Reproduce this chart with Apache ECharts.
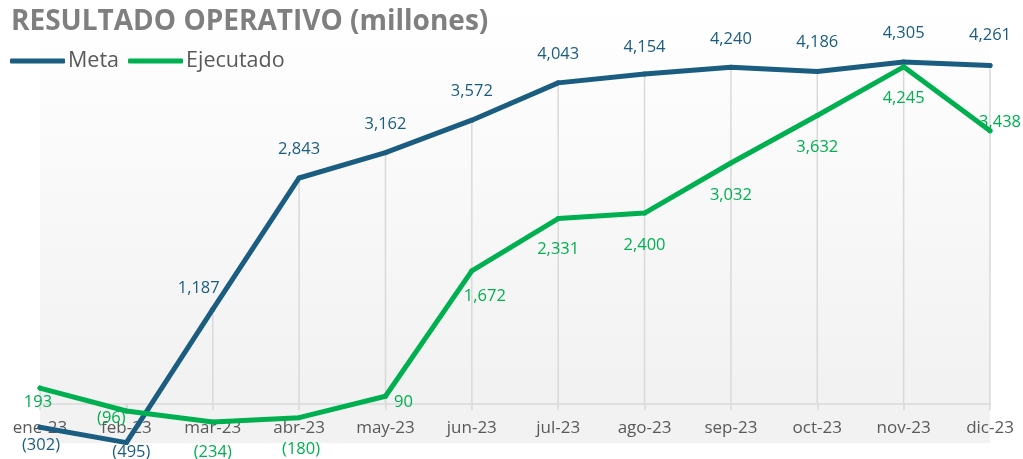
<!DOCTYPE html>
<html>
<head>
<meta charset="utf-8">
<style>
  html, body { margin: 0; padding: 0; background: #fff; }
  #chart { width: 1023px; height: 459px; }
</style>
<script src="https://cdn.jsdelivr.net/npm/echarts@6/dist/echarts.min.js"></script>
</head>
<body>
<div id="chart"></div>
<script>
const months = ['ene-23', 'feb-23', 'mar-23', 'abr-23', 'may-23', 'jun-23',
  'jul-23', 'ago-23', 'sep-23', 'oct-23', 'nov-23', 'dic-23']
const meta = [-302, -495, 1187, 2843, 3162, 3572, 4043, 4154, 4240, 4186, 4305, 4261]
const ejecutado = [193, -96, -234, -180, 90, 1672, 2331, 2400, 3032, 3632, 4245, 3438]

// label offsets from each point (px)
const metaOffsets = [[1, 18], [5, 10], [-14, -21], [0, -29], [0, -28], [0, -29],
  [0, -29], [0, -27], [0, -28], [0, -29], [0, -29], [0, -30]]
const ejecOffsets = [[-2, 14], [-15, 7], [0, 30], [2, 32], [18, 6], [13, 25],
  [0, 31], [0, 32], [0, 32], [0, 32], [0, 31], [10, -9]]

const BLUE = '#1A5D80'
const GREEN = '#00B050'
const FONT = 'Open Sans'

function fmt(v) {
  const s = Math.abs(v).toLocaleString('en-US')
  return v < 0 ? '(' + s + ')' : s
}

function withLabels(values, offsets, color) {
  return values.map((v, i) => ({
    value: v,
    label: {
      show: true,
      position: 'inside',
      offset: offsets[i],
      formatter: fmt(v),
      color: color,
      fontSize: 16.5,
      fontFamily: FONT
    }
  }))
}

const chart = echarts.init(document.getElementById('chart'))

const option = {
  backgroundColor: '#fff',
  animation: false,
  title: {
    text: 'RESULTADO OPERATIVO (millones)',
    left: 6,
    top: 3,
    textStyle: {
      color: '#7F7F7F',
      fontSize: 28,
      fontWeight: 'bold',
      fontFamily: FONT
    }
  },
  legend: {
    left: 5,
    top: 45,
    icon: 'roundRect',
    itemWidth: 55,
    itemHeight: 5,
    itemGap: 9,
    data: ['Meta', 'Ejecutado'],
    textStyle: {
      color: '#595959',
      fontSize: 21.5,
      fontFamily: FONT,
      padding: [0, 0, 0, -2]
    }
  },
  grid: {
    left: 40,
    right: 33,
    top: 7,
    bottom: 16,
    outerBoundsMode: 'none',
    containLabel: false,
    show: true,
    borderWidth: 0,
    backgroundColor: new echarts.graphic.LinearGradient(0, 0, 0, 1, [
      { offset: 0, color: '#FFFFFF' },
      { offset: 0.85, color: '#F2F2F2' },
      { offset: 1, color: '#F2F2F2' }
    ])
  },
  xAxis: {
    type: 'category',
    data: months,
    boundaryGap: false,
    axisLine: { onZero: true, lineStyle: { color: '#D9D9D9', width: 1.5 } },
    axisTick: { show: true, length: 7, interval: 0, lineStyle: { color: '#D9D9D9', width: 1.5 } },
    axisLabel: {
      color: '#595959',
      fontSize: 17,
      fontFamily: FONT,
      // labels sit at the grid bottom in v6, pull them up under the zero line
      margin: -23,
      interval: 0
    },
    splitLine: { show: false }
  },
  yAxis: {
    type: 'value',
    min: -500,
    max: 5000,
    show: false,
    splitLine: { show: false }
  },
  series: [
    {
      // drop lines from the highest point of each month
      name: 'drop',
      type: 'bar',
      silent: true,
      barWidth: 1.5,
      itemStyle: { color: '#D9D9D9' },
      data: meta.map((v, i) => Math.max(v, ejecutado[i])),
      z: 1
    },
    {
      name: 'Meta',
      type: 'line',
      data: withLabels(meta, metaOffsets, BLUE),
      symbol: 'circle',
      symbolSize: 5,
      itemStyle: { color: BLUE },
      lineStyle: { color: BLUE, width: 5, cap: 'round', join: 'round' },
      z: 3
    },
    {
      name: 'Ejecutado',
      type: 'line',
      data: withLabels(ejecutado, ejecOffsets, GREEN),
      symbol: 'circle',
      symbolSize: 5,
      itemStyle: { color: GREEN },
      lineStyle: { color: GREEN, width: 5, cap: 'round', join: 'round' },
      z: 4
    }
  ]
}

chart.setOption(option)

window.addEventListener('resize', () => {
  chart.resize()
})
</script>
</body>
</html>
